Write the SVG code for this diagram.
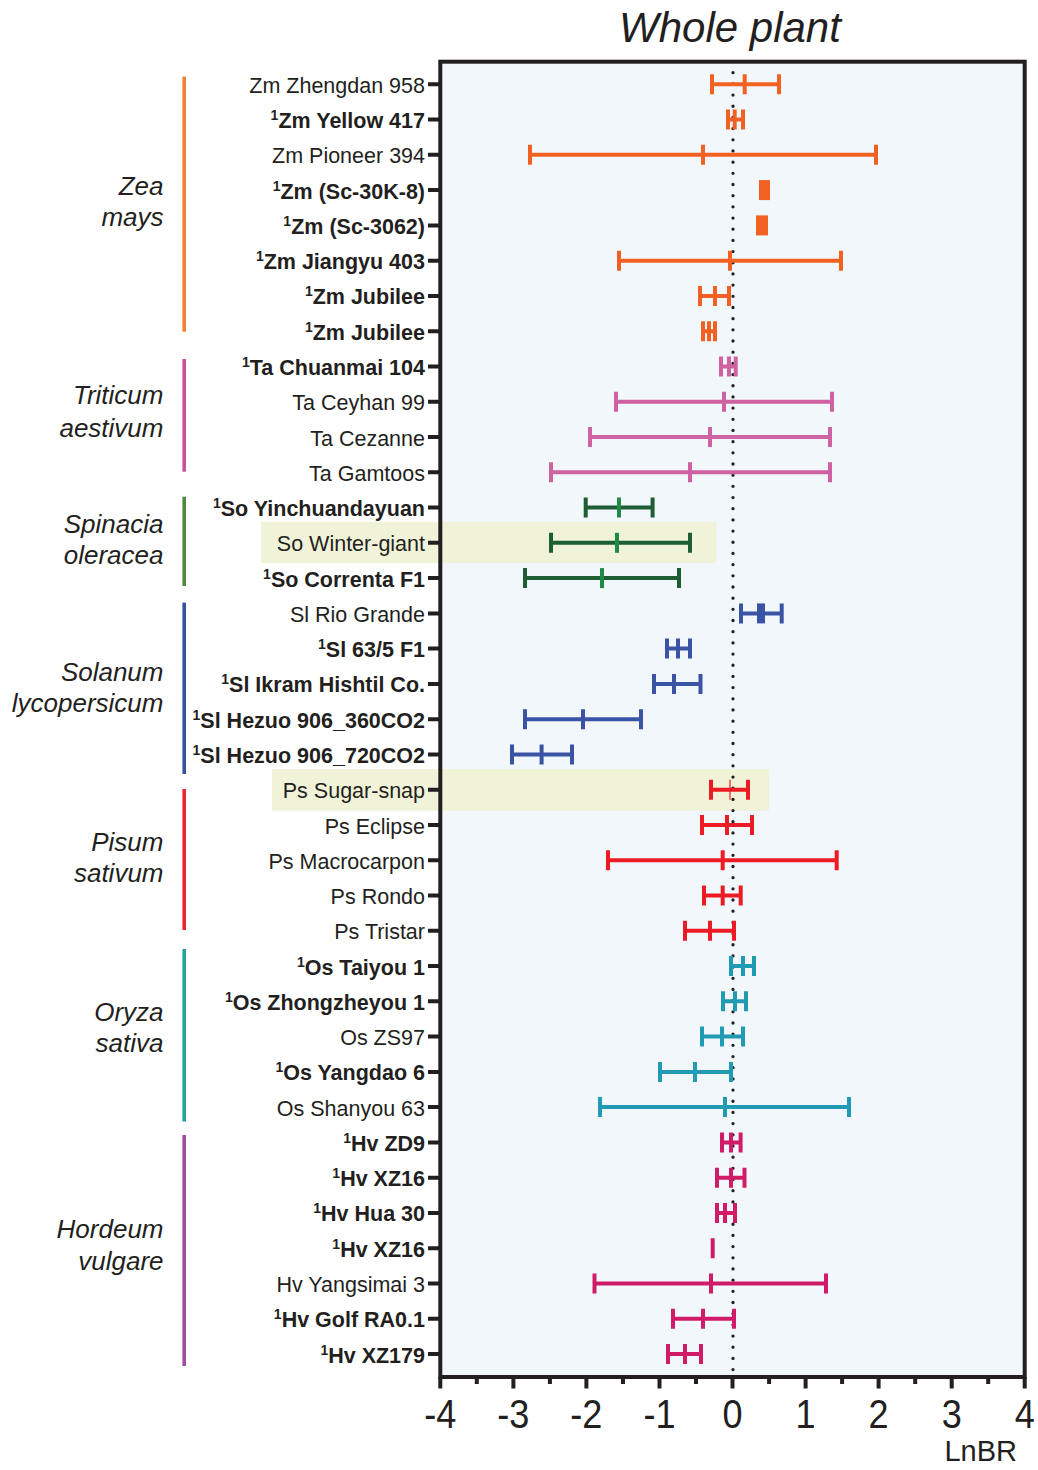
<svg xmlns="http://www.w3.org/2000/svg" width="1038" height="1470" viewBox="0 0 1038 1470">
<style>
text{font-family:"Liberation Sans",Arial,sans-serif;fill:#231F20}
.lab{font-size:21.5px;text-anchor:end}
.bold{font-weight:bold}
.sup{font-size:14px}
.grp{font-size:26px;font-style:italic;text-anchor:end}
.tick{font-size:41px;text-anchor:middle}
.bar path{fill:none;stroke-width:4}
.zm{stroke:#F26122}.zmf{fill:#F26122}
.ta{stroke:#CF62A3}
.so{stroke:#1D5E34}.som{stroke:#1F8B47}
.sl{stroke:#3A53A4}
.ps{stroke:#ED1C24}
.os{stroke:#219AB4}
.hv{stroke:#D01C68}
.ax{stroke:#231F20;stroke-width:4;fill:none}
.hl{fill:#F1F3D8}
</style>
<rect width="1038" height="1470" fill="#fff"/>
<rect x="440" y="61.7" width="585" height="1315.3" fill="#F2F7FC"/>
<rect class="hl" x="261" y="521.8" width="455.5" height="41.3"/>
<rect class="hl" x="272" y="769" width="497" height="41.8"/>
<text x="730" y="41.7" style="font-size:42px;font-style:italic;text-anchor:middle">Whole plant</text>
<g id="groups">
<path d="M184.2 76.7V331.7" stroke="#F08232" stroke-width="3.6"/>
<path d="M184.2 359V471.7" stroke="#C9509A" stroke-width="3.6"/>
<path d="M184.2 496.7V586" stroke="#4F8A3C" stroke-width="3.6"/>
<path d="M184.2 602.6V774" stroke="#3A50A0" stroke-width="3.6"/>
<path d="M184.2 789V930" stroke="#EE2630" stroke-width="3.6"/>
<path d="M184.2 949V1121.5" stroke="#24A19C" stroke-width="3.6"/>
<path d="M184.2 1135V1366" stroke="#A04C9E" stroke-width="3.6"/>
<text class="grp" x="163.5" y="195">Zea</text><text class="grp" x="163.5" y="226">mays</text>
<text class="grp" x="163.5" y="404.3">Triticum</text><text class="grp" x="163.5" y="436.5">aestivum</text>
<text class="grp" x="163.5" y="532.7">Spinacia</text><text class="grp" x="163.5" y="564">oleracea</text>
<text class="grp" x="163.5" y="680.7">Solanum</text><text class="grp" x="163.5" y="711.5">lycopersicum</text>
<text class="grp" x="163.5" y="851">Pisum</text><text class="grp" x="163.5" y="882">sativum</text>
<text class="grp" x="163.5" y="1020.7">Oryza</text><text class="grp" x="163.5" y="1051.5">sativa</text>
<text class="grp" x="163.5" y="1238">Hordeum</text><text class="grp" x="163.5" y="1269.5">vulgare</text>
</g>
<g id="axes">
<path class="ax" d="M428 84.3H440M428 119.6H440M428 154.8H440M428 190.1H440M428 225.4H440M428 260.7H440M428 295.9H440M428 331.2H440M428 366.5H440M428 401.7H440M428 437H440M428 472.3H440M428 507.5H440M428 542.8H440M428 578.1H440M428 613.4H440M428 648.6H440M428 683.9H440M428 719.2H440M428 754.4H440M428 789.7H440M428 825H440M428 860.2H440M428 895.5H440M428 930.8H440M428 966.1H440M428 1001.3H440M428 1036.6H440M428 1071.9H440M428 1107.1H440M428 1142.4H440M428 1177.7H440M428 1212.9H440M428 1248.2H440M428 1283.5H440M428 1318.8H440M428 1354H440"/>
<path class="ax" d="M440.3 1377V1388.5M513.4 1377V1388.5M586.4 1377V1388.5M659.5 1377V1388.5M732.5 1377V1388.5M805.6 1377V1388.5M878.6 1377V1388.5M951.7 1377V1388.5M1024.7 1377V1388.5M476.8 1377V1384M549.9 1377V1384M623 1377V1384M696 1377V1384M769.1 1377V1384M842.1 1377V1384M915.2 1377V1384M988.2 1377V1384"/>
<rect class="ax" x="440.3" y="61.7" width="584.4" height="1315.3"/>
<line x1="733" y1="72.7" x2="733" y2="1372" stroke="#231F20" stroke-width="3.3" stroke-linecap="round" stroke-dasharray="0 11.18"/>
<g class="tick">
<text transform="translate(440.3 1428.3) scale(0.88 1)">-4</text>
<text transform="translate(513.4 1428.3) scale(0.88 1)">-3</text>
<text transform="translate(586.4 1428.3) scale(0.88 1)">-2</text>
<text transform="translate(659.5 1428.3) scale(0.88 1)">-1</text>
<text transform="translate(732.5 1428.3) scale(0.88 1)">0</text>
<text transform="translate(805.6 1428.3) scale(0.88 1)">1</text>
<text transform="translate(878.6 1428.3) scale(0.88 1)">2</text>
<text transform="translate(951.7 1428.3) scale(0.88 1)">3</text>
<text transform="translate(1024.7 1428.3) scale(0.88 1)">4</text>
</g>
<text x="1017" y="1461" style="font-size:29px;text-anchor:end">LnBR</text>
</g>
<g id="labels">
<text class="lab" x="425" y="92.8">Zm Zhengdan 958</text>
<text class="lab bold" x="425" y="128.1"><tspan class="sup" dy="-8">1</tspan><tspan dy="8">Zm Yellow 417</tspan></text>
<text class="lab" x="425" y="163.3">Zm Pioneer 394</text>
<text class="lab bold" x="425" y="198.6"><tspan class="sup" dy="-8">1</tspan><tspan dy="8">Zm (Sc-30K-8)</tspan></text>
<text class="lab bold" x="425" y="233.9"><tspan class="sup" dy="-8">1</tspan><tspan dy="8">Zm (Sc-3062)</tspan></text>
<text class="lab bold" x="425" y="269.2"><tspan class="sup" dy="-8">1</tspan><tspan dy="8">Zm Jiangyu 403</tspan></text>
<text class="lab bold" x="425" y="304.4"><tspan class="sup" dy="-8">1</tspan><tspan dy="8">Zm Jubilee</tspan></text>
<text class="lab bold" x="425" y="339.7"><tspan class="sup" dy="-8">1</tspan><tspan dy="8">Zm Jubilee</tspan></text>
<text class="lab bold" x="425" y="375"><tspan class="sup" dy="-8">1</tspan><tspan dy="8">Ta Chuanmai 104</tspan></text>
<text class="lab" x="425" y="410.2">Ta Ceyhan 99</text>
<text class="lab" x="425" y="445.5">Ta Cezanne</text>
<text class="lab" x="425" y="480.8">Ta Gamtoos</text>
<text class="lab bold" x="425" y="516"><tspan class="sup" dy="-8">1</tspan><tspan dy="8">So Yinchuandayuan</tspan></text>
<text class="lab" x="425" y="551.3">So Winter-giant</text>
<text class="lab bold" x="425" y="586.6"><tspan class="sup" dy="-8">1</tspan><tspan dy="8">So Correnta F1</tspan></text>
<text class="lab" x="425" y="621.9">Sl Rio Grande</text>
<text class="lab bold" x="425" y="657.1"><tspan class="sup" dy="-8">1</tspan><tspan dy="8">Sl 63/5 F1</tspan></text>
<text class="lab bold" x="425" y="692.4"><tspan class="sup" dy="-8">1</tspan><tspan dy="8">Sl Ikram Hishtil Co.</tspan></text>
<text class="lab bold" x="425" y="727.7"><tspan class="sup" dy="-8">1</tspan><tspan dy="8">Sl Hezuo 906_360CO2</tspan></text>
<text class="lab bold" x="425" y="762.9"><tspan class="sup" dy="-8">1</tspan><tspan dy="8">Sl Hezuo 906_720CO2</tspan></text>
<text class="lab" x="425" y="798.2">Ps Sugar-snap</text>
<text class="lab" x="425" y="833.5">Ps Eclipse</text>
<text class="lab" x="425" y="868.7">Ps Macrocarpon</text>
<text class="lab" x="425" y="904">Ps Rondo</text>
<text class="lab" x="425" y="939.3">Ps Tristar</text>
<text class="lab bold" x="425" y="974.6"><tspan class="sup" dy="-8">1</tspan><tspan dy="8">Os Taiyou 1</tspan></text>
<text class="lab bold" x="425" y="1009.8"><tspan class="sup" dy="-8">1</tspan><tspan dy="8">Os Zhongzheyou 1</tspan></text>
<text class="lab" x="425" y="1045.1">Os ZS97</text>
<text class="lab bold" x="425" y="1080.4"><tspan class="sup" dy="-8">1</tspan><tspan dy="8">Os Yangdao 6</tspan></text>
<text class="lab" x="425" y="1115.6">Os Shanyou 63</text>
<text class="lab bold" x="425" y="1150.9"><tspan class="sup" dy="-8">1</tspan><tspan dy="8">Hv ZD9</tspan></text>
<text class="lab bold" x="425" y="1186.2"><tspan class="sup" dy="-8">1</tspan><tspan dy="8">Hv XZ16</tspan></text>
<text class="lab bold" x="425" y="1221.4"><tspan class="sup" dy="-8">1</tspan><tspan dy="8">Hv Hua 30</tspan></text>
<text class="lab bold" x="425" y="1256.7"><tspan class="sup" dy="-8">1</tspan><tspan dy="8">Hv XZ16</tspan></text>
<text class="lab" x="425" y="1292">Hv Yangsimai 3</text>
<text class="lab bold" x="425" y="1327.3"><tspan class="sup" dy="-8">1</tspan><tspan dy="8">Hv Golf RA0.1</tspan></text>
<text class="lab bold" x="425" y="1362.5"><tspan class="sup" dy="-8">1</tspan><tspan dy="8">Hv XZ179</tspan></text>
</g>
<g id="bars" class="bar">
<path id="r1" class="zm" d="M712 84.3H779M712 74.3v20M744.7 74.3v20M779 74.3v20"/>
<path id="r2" class="zm" d="M728 119.6H743M728 109.6v20M734.7 109.6v20M743 109.6v20"/>
<path id="r3" class="zm" d="M530 154.8H876M530 144.8v20M703 144.8v20M876 144.8v20"/>
<rect id="r4" class="zmf" x="759" y="180.1" width="11" height="20"/>
<rect id="r5" class="zmf" x="756" y="215.4" width="12" height="20"/>
<path id="r6" class="zm" d="M619 260.7H841M619 250.7v20M730 250.7v20M841 250.7v20"/>
<path id="r7" class="zm" d="M700 295.9H729M700 285.9v20M715 285.9v20M729 285.9v20"/>
<path id="r8" class="zm" d="M703 331.2H715M703 321.2v20M709 321.2v20M715 321.2v20"/>
<path id="r9" class="ta" d="M721 366.5H735.7M721 356.5v20M729 356.5v20M735.7 356.5v20"/>
<path id="r10" class="ta" d="M616 401.7H832M616 391.7v20M724 391.7v20M832 391.7v20"/>
<path id="r11" class="ta" d="M590 437H830M590 427v20M710 427v20M830 427v20"/>
<path id="r12" class="ta" d="M551 472.3H830M551 462.3v20M690 462.3v20M830 462.3v20"/>
<path id="r13" class="so" d="M585.7 507.5H652.6M585.7 497.5v20M652.6 497.5v20"/>
<path class="som" d="M619 497.5v20"/>
<path id="r14" class="so" d="M551 542.8H690M551 532.8v20M690 532.8v20"/>
<path class="som" d="M617 532.8v20"/>
<path id="r15" class="so" d="M525 578.1H679M525 568.1v20M679 568.1v20"/>
<path class="som" d="M602 568.1v20"/>
<path id="r16" class="sl" d="M741 613.4H781.7M741 603.4v20M781.7 603.4v20"/>
<path class="sl" style="stroke-width:8" d="M761 603.4v20"/>
<path id="r17" class="sl" d="M667 648.6H690M667 638.6v20M678 638.6v20M690 638.6v20"/>
<path id="r18" class="sl" d="M654 683.9H700.5M654 673.9v20M674 673.9v20M700.5 673.9v20"/>
<path id="r19" class="sl" d="M525 719.2H641M525 709.2v20M583 709.2v20M641 709.2v20"/>
<path id="r20" class="sl" d="M512 754.4H572M512 744.4v20M541.6 744.4v20M572 744.4v20"/>
<path id="r21" class="ps" d="M711 789.7H748M711 779.7v20M748 779.7v20"/>
<path class="ps" style="stroke-width:1.2" d="M730 779.7v20"/>
<path id="r22" class="ps" d="M702 825H752M702 815v20M727 815v20M752 815v20"/>
<path id="r23" class="ps" d="M608 860.2H836.7M608 850.2v20M722.7 850.2v20M836.7 850.2v20"/>
<path id="r24" class="ps" d="M704 895.5H740.7M704 885.5v20M722.7 885.5v20M740.7 885.5v20"/>
<path id="r25" class="ps" d="M685 930.8H734M685 920.8v20M710 920.8v20M734 920.8v20"/>
<path id="r26" class="os" d="M731 966.1H754M731 956.1v20M743 956.1v20M754 956.1v20"/>
<path id="r27" class="os" d="M723 1001.3H746M723 991.3v20M735 991.3v20M746 991.3v20"/>
<path id="r28" class="os" d="M702 1036.6H743M702 1026.6v20M722 1026.6v20M743 1026.6v20"/>
<path id="r29" class="os" d="M660 1071.9H731M660 1061.9v20M695 1061.9v20M731 1061.9v20"/>
<path id="r30" class="os" d="M600 1107.1H849M600 1097.1v20M725 1097.1v20M849 1097.1v20"/>
<path id="r31" class="hv" d="M722 1142.4H740.6M722 1132.4v20M731 1132.4v20M740.6 1132.4v20"/>
<path id="r32" class="hv" d="M717 1177.7H744.5M717 1167.7v20M731 1167.7v20M744.5 1167.7v20"/>
<path id="r33" class="hv" d="M717 1212.9H735M717 1202.9v20M725 1202.9v20M735 1202.9v20"/>
<path id="r34" class="hv" d="M712.7 1238.2v20"/>
<path id="r35" class="hv" d="M594.5 1283.5H826M594.5 1273.5v20M711 1273.5v20M826 1273.5v20"/>
<path id="r36" class="hv" d="M673 1318.8H734M673 1308.8v20M703 1308.8v20M734 1308.8v20"/>
<path id="r37" class="hv" d="M668 1354H701M668 1344v20M685 1344v20M701 1344v20"/>
</g>
</svg>
